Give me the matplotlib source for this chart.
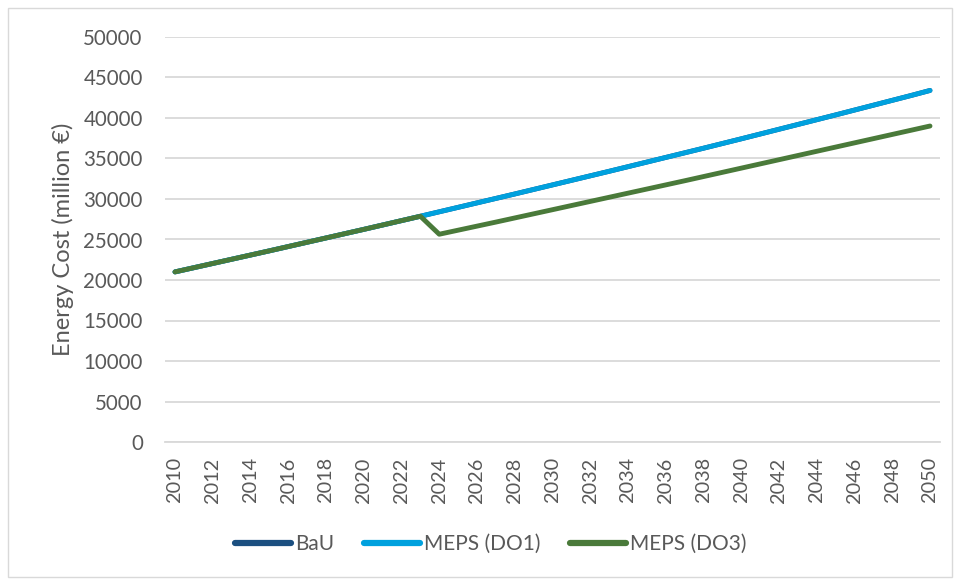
import matplotlib
matplotlib.use("Agg")
import matplotlib.pyplot as plt
from matplotlib.patches import Rectangle

years = list(range(2010, 2051))
bau = [21000, 21520, 22040, 22560, 23080, 23600, 24130, 24660, 25190, 25720,
       26250, 26790, 27330, 27870, 28420, 28970, 29520, 30070, 30620, 31180,
       31740, 32300, 32860, 33420, 33990, 34560, 35130, 35700, 36270, 36850,
       37430, 38020, 38610, 39200, 39790, 40380, 40980, 41580, 42180, 42780,
       43400]
meps_do1 = list(bau)
meps_do3 = [21000, 21520, 22040, 22560, 23080, 23600, 24130, 24660, 25190, 25720,
            26250, 26790, 27330, 27870, 25650, 26150, 26650, 27150, 27660, 28170,
            28680, 29190, 29700, 30210, 30720, 31230, 31740, 32250, 32770, 33290,
            33810, 34330, 34850, 35370, 35890, 36410, 36930, 37450, 37970, 38490,
            39010]
xtick_years = list(range(2010, 2051, 2))
ytick_vals = list(range(0, 50001, 5000))

plt.rcParams['font.family'] = ['Lato', 'DejaVu Sans']
txt = '#595959'

fig = plt.figure(figsize=(9.6, 5.79), dpi=100)
ax = fig.add_axes([165/960, 1-442/579, 775/960, 405/579])

ax.plot(years, bau, color='#1B4F80', lw=3.5, solid_capstyle='round', label='BaU')
ax.plot(years, meps_do1, color='#00A1DE', lw=3.5, solid_capstyle='round', label='MEPS (DO1)')
ax.plot(years, meps_do3, color='#4A7A3A', lw=3.5, solid_capstyle='round', label='MEPS (DO3)')

ax.set_ylim(0, 50000)
ax.set_xlim(2009.47, 2050.53)
ax.set_yticks(ytick_vals)
ax.set_yticklabels([str(v) for v in ytick_vals], fontsize=14.8, color=txt)
ax.set_xticks(xtick_years)
ax.set_xticklabels([str(v) for v in xtick_years], rotation=90, fontsize=14.3, color=txt)
ax.tick_params(axis='y', length=0, pad=16)
ax.tick_params(axis='x', length=0, pad=11)
ax.grid(axis='y', color='#D9D9D9', lw=1.3)
ax.set_axisbelow(True)
for s in ['top', 'right', 'left']:
    ax.spines[s].set_visible(False)
ax.spines['bottom'].set_color('#D9D9D9')
ax.spines['bottom'].set_linewidth(1.3)
ax.set_ylabel('Energy Cost (million €)', fontsize=17, color=txt, labelpad=7)

leg = fig.legend(loc='center', bbox_to_anchor=(491/960, 1-544/579), ncol=3, frameon=False,
                 fontsize=15, handlelength=2.7, handletextpad=0.2, columnspacing=1.4)
for t in leg.get_texts():
    t.set_color(txt)
for h in leg.get_lines():
    h.set_linewidth(4.5)
    h.set_solid_capstyle('round')

fig.patches.append(Rectangle((8/960, 2/579), 944/960, 569/579, transform=fig.transFigure,
                             fill=False, edgecolor='#D9D9D9', lw=1))

fig.savefig('out.png', dpi=100)
